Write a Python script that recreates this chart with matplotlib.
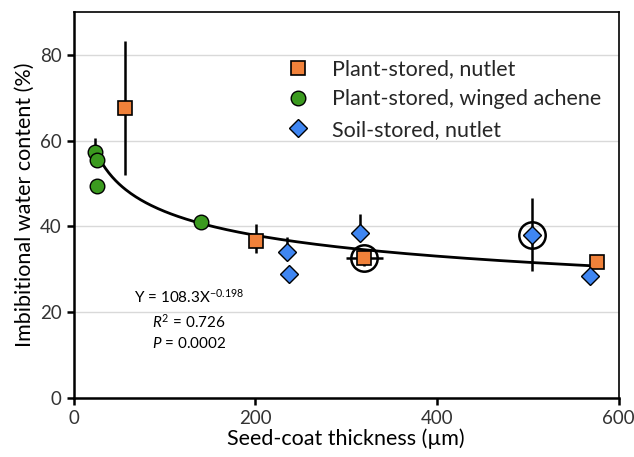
import numpy as np
import matplotlib
matplotlib.use("Agg")
import matplotlib.pyplot as plt

plt.rcParams['font.family'] = ['Lato', 'DejaVu Sans']
plt.rcParams['mathtext.fontset'] = 'custom'
plt.rcParams['mathtext.rm'] = 'Lato'
plt.rcParams['mathtext.it'] = 'Lato:italic'

# plant-stored, nutlet
nut_x = [57, 201, 320, 576]
nut_y = [67.6, 36.7, 32.7, 31.7]
nut_yerr = [[15.5, 3.0, 2.0, 0], [15.7, 3.8, 2.0, 0]]
nut_xerr = [0, 0, 20, 0]

# plant-stored, winged achene
ach_x = [24, 26, 26, 140]
ach_y = [57.3, 55.5, 49.4, 41.0]
ach_yerr = [3.4, 0, 0, 0]

# soil-stored, nutlet
soil_x = [235, 237, 315, 505, 568]
soil_y = [34.0, 29.0, 38.4, 38.1, 28.4]
soil_yerr = [[0, 0, 0, 8.5, 0], [3.5, 0, 4.5, 8.6, 0]]

# circled points
ring_x = [320, 505]
ring_y = [32.7, 38.1]

# power fit Y = a * X^b
fit_a = 108.3
fit_b = -0.198
fit_range = [26, 580]

fig = plt.figure(figsize=(6.34, 4.57), dpi=100)
ax = fig.add_axes([0.116, 0.129, 0.860, 0.845])

ax.yaxis.grid(True, color='#d9d9d9', lw=1)
ax.set_axisbelow(True)

fx = np.linspace(fit_range[0], fit_range[1], 300)
ax.plot(fx, fit_a * fx ** fit_b, color='black', lw=2, zorder=3)

ax.errorbar(nut_x, nut_y, yerr=nut_yerr, xerr=nut_xerr, fmt='none',
            ecolor='black', elinewidth=1.8, capsize=0, zorder=2)
ax.errorbar(ach_x, ach_y, yerr=ach_yerr, fmt='none',
            ecolor='black', elinewidth=1.8, capsize=0, zorder=2)
ax.errorbar(soil_x, soil_y, yerr=soil_yerr, fmt='none',
            ecolor='black', elinewidth=1.8, capsize=0, zorder=2)

ax.plot(ring_x, ring_y, 'o', ms=19, mfc='none', mec='black', mew=1.8, zorder=4)

ax.plot(nut_x, nut_y, 's', ms=10.5, color='#f0813a', mec='black', mew=1.2,
        zorder=5, label='Plant-stored, nutlet')
ax.plot(ach_x, ach_y, 'o', ms=10.5, color='#3b9a1f', mec='black', mew=1.0,
        zorder=5, label='Plant-stored, winged achene')
ax.plot(soil_x, soil_y, 'D', ms=9, color='#3f86f2', mec='black', mew=1.0,
        zorder=5, label='Soil-stored, nutlet')

leg = ax.legend(loc='upper left', bbox_to_anchor=(0.344, 0.928), frameon=False,
                fontsize=15.5, handletextpad=0.8, labelspacing=0.48,
                handlelength=1.6)
for t in leg.get_texts():
    t.set_color('#262626')

ax.text(127, 23.5, r'Y = 108.3X$^{-0.198}$', ha='center', va='center', fontsize=11)
ax.text(127, 17.7, r'$R^2$ = 0.726', ha='center', va='center', fontsize=11)
ax.text(127, 12.8, r'$P$ = 0.0002', ha='center', va='center', fontsize=11)

ax.set_xlim(0, 600)
ax.set_ylim(0, 90)
ax.set_xticks([0, 200, 400, 600])
ax.set_yticks([0, 20, 40, 60, 80])
ax.tick_params(direction='out', length=5, width=1.8, labelsize=13.5,
               colors='black', labelcolor='#333333')
for s in ax.spines.values():
    s.set_linewidth(1.8)
ax.spines['top'].set_linewidth(1.2)
ax.spines['right'].set_linewidth(1.2)

ax.set_xlabel('Seed-coat thickness (µm)', fontsize=15.5, labelpad=1)
ax.set_ylabel('Imbibitional water content (%)', fontsize=15.5, labelpad=4)

fig.savefig('out.png', dpi=100)
